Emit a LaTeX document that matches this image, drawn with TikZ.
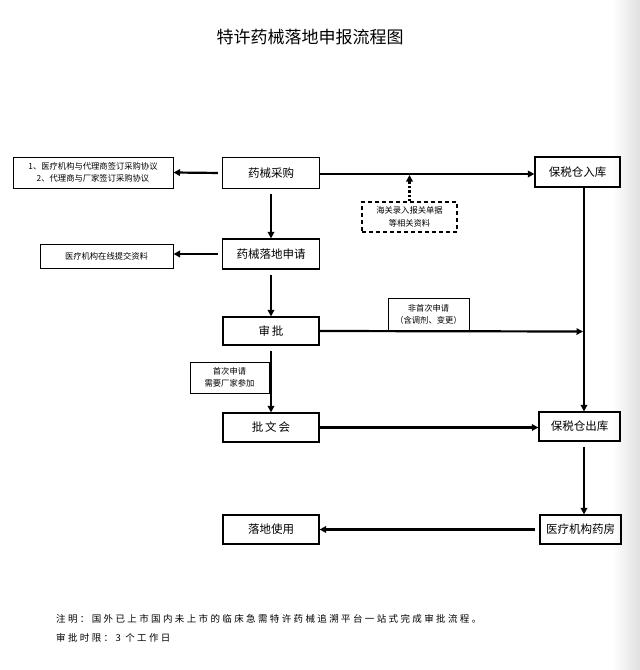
\documentclass[tikz,border=0pt]{standalone}
\usepackage{fontspec}
\setmainfont{Noto Sans CJK SC}
\newfontfamily\cjkspaced[LetterSpace=25]{Noto Sans CJK SC}
\usetikzlibrary{arrows.meta}
\begin{document}
\begin{tikzpicture}[x=1pt,y=-1pt,
  box/.style={draw, line width=1.2pt, rectangle, inner sep=0pt, align=center, font=\fontsize{11.5}{13}\selectfont},
  tag/.style={draw, line width=1pt, rectangle, inner sep=0pt, align=center, font=\fontsize{8.3}{12.5}\selectfont},
  arr/.style={line width=2.2pt, -{Triangle[length=6.5pt,width=6.5pt]}},
  notetext/.style={anchor=west, inner sep=0pt, font=\cjkspaced\fontsize{9.5}{12}\selectfont}
]
\useasboundingbox (0,0) rectangle (640,670);
\shade[left color=white, right color=black!12] (612,0) rectangle (640,670);

\node[anchor=center, inner sep=0pt, font=\fontsize{17}{20}\selectfont] (title) at (310,37) {特许药械落地申报流程图};

% main boxes
\node[box, minimum width=97pt, minimum height=31pt] (buy) at (271,173) {药械采购};
\node[tag, minimum width=160pt, minimum height=31pt] (left1) at (93,172.5) {1、医疗机构与代理商签订采购协议\\2、代理商与厂家签订采购协议};
\node[box, minimum width=97pt, minimum height=30pt] (apply) at (271,254) {药械落地申请};
\node[tag, minimum width=133pt, minimum height=24pt] (left2) at (106.5,256) {医疗机构在线提交资料};
\node[box, minimum width=85pt, minimum height=30pt] (inwh) at (577.5,172) {保税仓入库};
\node[tag, dashed, line width=1.4pt, dash pattern=on 4pt off 3pt, minimum width=95pt, minimum height=30pt] (customs) at (409.5,217) {海关录入报关单据\\等相关资料};
\node[box, minimum width=96pt, minimum height=28pt] (approve) at (271,331) {审\,批};
\node[tag, minimum width=81pt, minimum height=33pt] (nonfirst) at (428.5,314.5) {非首次申请\\（含调剂、变更）};
\node[tag, minimum width=79pt, minimum height=31pt] (first) at (229.5,377.5) {首次申请\\需要厂家参加};
\node[box, minimum width=96pt, minimum height=29pt] (pwh) at (271,427.5) {批\,文\,会};
\node[box, minimum width=81pt, minimum height=29pt] (outwh) at (579.5,426.5) {保税仓出库};
\node[box, minimum width=81pt, minimum height=29pt] (pharm) at (580.5,529.5) {医疗机构药房};
\node[box, minimum width=96pt, minimum height=29pt] (use) at (271,529.5) {落地使用};

\coordinate (col) at (584,0);
\coordinate (join) at (584,331.5);

% connectors
\draw[arr, shorten <=4pt] (buy.west) -- (left1.east);
\draw[arr, shorten <=4pt] (apply.west) -- (apply.west -| left2.east);
\draw[arr, shorten <=5pt] (buy.south) -- (apply.north);
\draw[arr, shorten <=5pt] (apply.south) -- (approve.north);
\draw[arr] (buy.east |- 0,174) -- (inwh.west |- 0,174);
\draw[line width=2.4pt, dotted, -{Triangle[length=6.5pt,width=6.5pt]}] (customs.north) -- (customs.north |- 0,175);
\draw[line width=2.2pt] (inwh.south -| col) -- (join);
\draw[arr] (join) -- (outwh.north -| col);
\draw[arr] (approve.east) -- ([xshift=-1pt]join);
\draw[arr, shorten <=5pt] (approve.south) -- (pwh.north);
\draw[arr] (pwh.east) -- (pwh.east -| outwh.west);
\draw[arr, shorten <=5pt] (outwh.south -| col) -- (pharm.north -| col);
\draw[arr, shorten <=4pt] (pharm.west) -- (use.east);

% notes
\node[notetext] (n1) at (56,619) {注明：国外已上市国内未上市的临床急需特许药械追溯平台一站式完成审批流程。};
\node[notetext] (n2) at (56,638) {审批时限：3 个工作日};
\end{tikzpicture}
\end{document}
